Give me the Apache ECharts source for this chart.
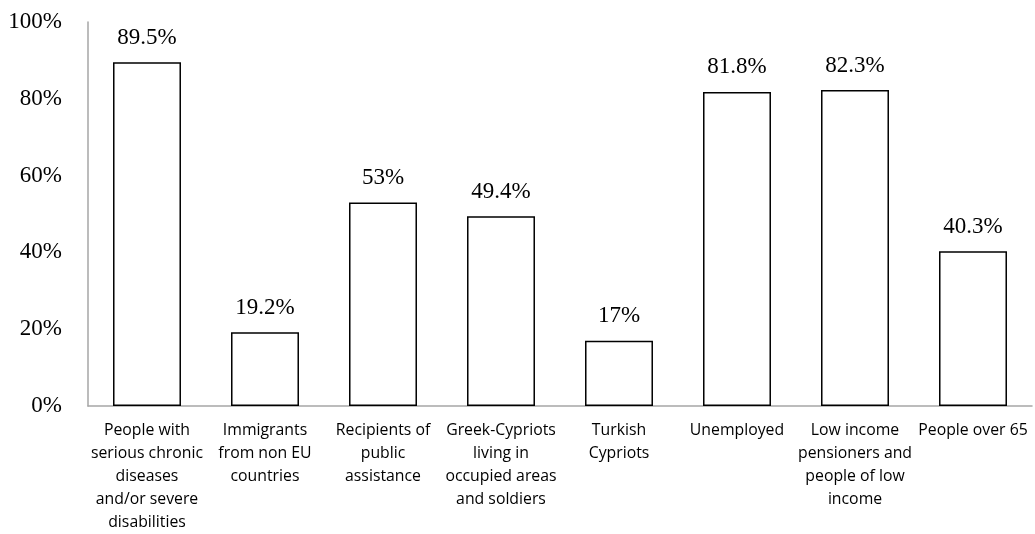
<!DOCTYPE html>
<html>
<head>
<meta charset="utf-8">
<script src="https://cdn.jsdelivr.net/npm/echarts@6/dist/echarts.min.js"></script>
<style>html,body{margin:0;padding:0;background:#fff}#c{width:1035px;height:534px}</style>
</head>
<body>
<div id="c"></div>
<script>
const categories = [
  "People with\nserious chronic\ndiseases\nand/or severe\ndisabilities",
  "Immigrants\nfrom non EU\ncountries",
  "Recipients of\npublic\nassistance",
  "Greek-Cypriots\nliving in\noccupied areas\nand soldiers",
  "Turkish\nCypriots",
  "Unemployed",
  "Low income\npensioners and\npeople of low\nincome",
  "People over 65"
];
const values = [89.5, 19.2, 53, 49.4, 17, 81.8, 82.3, 40.3];
const yTicks = [0, 20, 40, 60, 80, 100];

const chart = echarts.init(document.getElementById('c'));
chart.setOption({
  animation: false,
  grid: {left: 88, right: 3, top: 22, bottom: 127, containLabel: false},
  xAxis: {
    type: 'category',
    data: categories,
    axisLine: {lineStyle: {color: '#a6a6a6', width: 1.5}},
    axisTick: {show: false},
    axisLabel: {
      interval: 0, margin: 13, color: '#000',
      fontFamily: 'Open Sans', fontSize: 15.8, lineHeight: 23, align: 'center'
    }
  },
  yAxis: {
    type: 'value', min: yTicks[0], max: yTicks[yTicks.length - 1], interval: 20,
    axisLine: {show: true, lineStyle: {color: '#a6a6a6', width: 1.5}},
    axisTick: {show: false},
    splitLine: {show: false},
    axisLabel: {
      margin: 26, color: '#000', fontFamily: 'Liberation Serif', fontSize: 23,
      formatter: v => v + '%'
    }
  },
  series: [{
    type: 'bar',
    data: values,
    barWidth: '57.6%',
    itemStyle: {color: '#fff', borderColor: '#000', borderWidth: 1.5},
    label: {
      show: true, position: 'top', distance: 13, color: '#000',
      fontFamily: 'Liberation Serif', fontSize: 23,
      formatter: p => p.value + '%'
    }
  }]
});
</script>
</body>
</html>
